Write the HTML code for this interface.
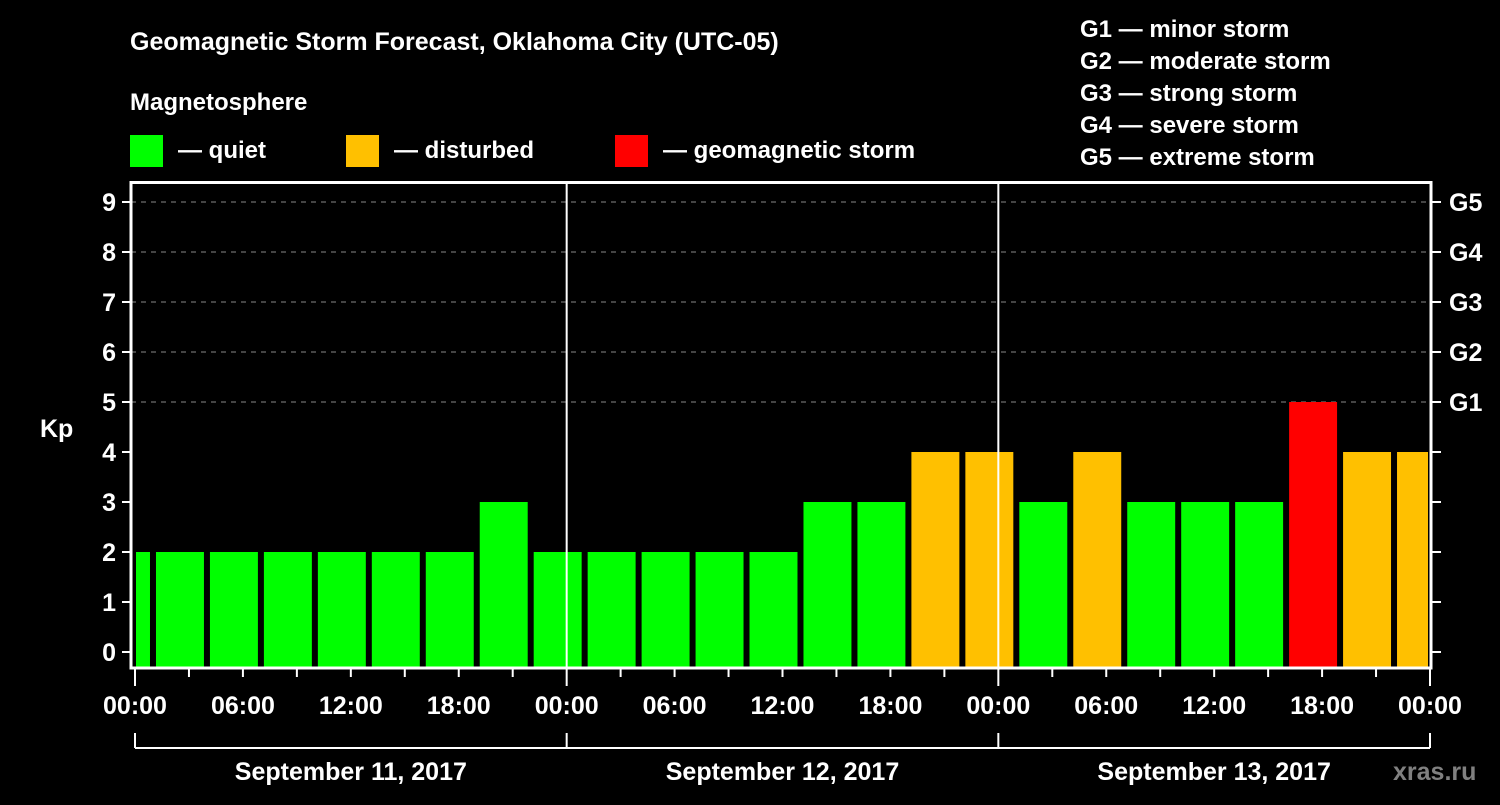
<!DOCTYPE html>
<html><head><meta charset="utf-8"><style>
body{margin:0;background:#000;width:1500px;height:800px;overflow:hidden}
svg text{font-family:"Liberation Sans",Arial,sans-serif;font-weight:bold;fill:#fff}
</style></head><body>
<svg id="c" width="1500" height="800">
<text x="130" y="50" font-size="25">Geomagnetic Storm Forecast, Oklahoma City (UTC-05)</text>
<text x="130" y="110" font-size="24">Magnetosphere</text>
<rect x="130" y="135" width="33" height="32" fill="#00ff00"/>
<text x="178" y="158" font-size="24">— quiet</text>
<rect x="346" y="135" width="33" height="32" fill="#ffc000"/>
<text x="394" y="158" font-size="24">— disturbed</text>
<rect x="615" y="135" width="33" height="32" fill="#ff0000"/>
<text x="663" y="158" font-size="24">— geomagnetic storm</text>
<g font-size="24">
<text x="1080" y="37">G1 — minor storm</text>
<text x="1080" y="69">G2 — moderate storm</text>
<text x="1080" y="101">G3 — strong storm</text>
<text x="1080" y="133">G4 — severe storm</text>
<text x="1080" y="165">G5 — extreme storm</text>
</g>
<text x="40" y="437" font-size="25">Kp</text>
<text x="1393" y="780" font-size="25" style="fill:#808080">xras.ru</text>
<g id="g"></g>
</svg>
<script>
const kpValues=[2,2,2,2,2,2,2,3,2,2,2,2,2,3,3,4,4,3,4,3,3,3,5,4,4];
const yTicks=[0,1,2,3,4,5,6,7,8,9];
const gLabels=["G1","G2","G3","G4","G5"];
const timeLabels=["00:00","06:00","12:00","18:00","00:00","06:00","12:00","18:00","00:00","06:00","12:00","18:00","00:00"];
const dateLabels=["September 11, 2017","September 12, 2017","September 13, 2017"];
const firstBarStartHour=-2, barHours=3, totalHours=72;
const X0=135,PX_H=(1430-135)/72,Y0=652,PX_K=50;
const x=h=>X0+Math.max(0,Math.min(totalHours,h))*PX_H;
const y=k=>Y0-k*PX_K;
const NS="http://www.w3.org/2000/svg";
const g=document.getElementById('g');
function mk(t,a,txt){const e=document.createElementNS(NS,t);for(const k in a)e.setAttribute(k,a[k]);if(txt!=null)e.textContent=txt;g.appendChild(e);return e;}
yTicks.forEach(k=>{
 if(k>=5){const l=mk('line',{x1:131,x2:1431,y1:y(k),y2:y(k),stroke:'#888','stroke-dasharray':'5,5','stroke-width':1});
 
 }
 const t=mk('line',{x1:122,x2:131,y1:y(k),y2:y(k),stroke:'#fff','stroke-width':2});
 
 
 const t2=mk('line',{x1:1431,x2:1441,y1:y(k),y2:y(k),stroke:'#fff','stroke-width':2});
 
 
 const lb=mk('text',{x:116,y:y(k)+9,'font-size':25,'text-anchor':'end'},String(k));
 
 
});
gLabels.forEach((s,i)=>{
 const lb=mk('text',{x:1449,y:y(5+i)+9,'font-size':25},s);
 
 
});
kpValues.forEach((v,i)=>{
 const h0=firstBarStartHour+i*barHours,h1=h0+barHours;
 let x0=x(h0)+3,x1=x(h1)-3;
 if(h0<0)x0=x(0)+1; if(h1>totalHours)x1=x(totalHours)-2;
 const col=v>=5?'#ff0000':v>=4?'#ffc000':'#00ff00';
 const r=mk('rect',{x:x0,y:y(v),width:x1-x0,height:668-y(v),fill:col});
 
 
});
[24,48].forEach(h=>{const l=mk('line',{x1:x(h),x2:x(h),y1:182,y2:668,stroke:'#fff','stroke-width':2});
 
 });
const fr=mk('rect',{x:131,y:182.5,width:1300,height:485.5,fill:'none',stroke:'#fff','stroke-width':3});


for(let h=0;h<=72;h+=3){
 const mid=h%24===0;
 const t=mk('line',{x1:x(h),x2:x(h),y1:668,y2:mid?686:677,stroke:'#fff','stroke-width':2});
 
 
}
timeLabels.forEach((s,i)=>{
 const lb=mk('text',{x:x(i*6),y:714,'font-size':25,'text-anchor':'middle'},s);
 
 
});
const br=mk('line',{x1:x(0),x2:x(72),y1:748,y2:748,stroke:'#fff','stroke-width':2});


[0,24,48,72].forEach(h=>{const l=mk('line',{x1:x(h),x2:x(h),y1:733,y2:748,stroke:'#fff','stroke-width':2});
 
 });
dateLabels.forEach((s,i)=>{
 const lb=mk('text',{x:x(i*24+12),y:780,'font-size':25,'text-anchor':'middle'},s);
 
 
});
</script>
</body></html>
